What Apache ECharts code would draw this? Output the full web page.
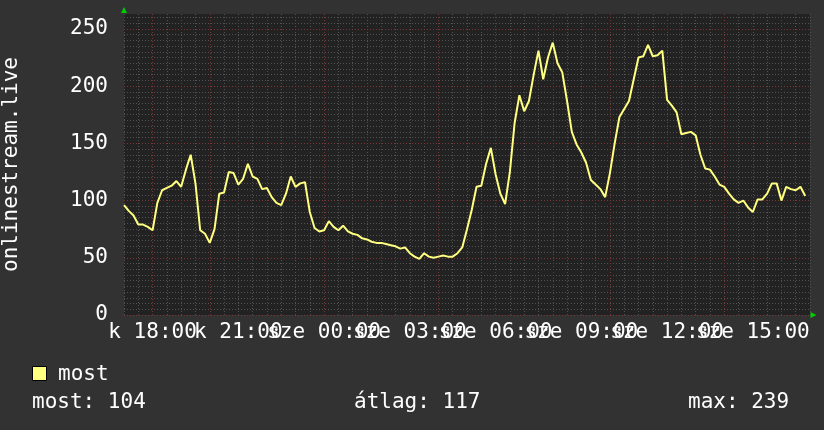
<!DOCTYPE html>
<html><head><meta charset="utf-8">
<script src="https://cdn.jsdelivr.net/npm/echarts@6/dist/echarts.min.js"></script>
<style>html,body{margin:0;padding:0;background:#323232}#c{width:824px;height:430px}</style>
</head><body><div id="c"></div>
<script>
const yTitle = 'onlinestream.live';
const seriesName = 'most';
// 10-minute samples starting Tuesday 17:00
const values = [
  96, 91, 87, 79, 79, 77, 74, 98, 109, 111,
  113, 117, 112, 127, 140, 115, 74, 71, 63, 75,
  106, 107, 125, 124, 114, 119, 132, 121, 119, 110,
  111, 103, 98, 96, 106, 121, 112, 115, 116, 90,
  76, 73, 74, 82, 77, 74, 78, 73, 71, 70,
  67, 66, 64, 63, 63, 62, 61, 60, 58, 59,
  54, 51, 49, 54, 51, 50, 51, 52, 51, 51,
  54, 59, 75, 92, 112, 113, 132, 146, 123, 106,
  97, 125, 168, 192, 178, 187, 210, 231, 206, 225,
  238, 220, 212, 187, 160, 149, 142, 133, 118, 114,
  110, 103, 124, 150, 173, 180, 187, 206, 225, 226,
  236, 226, 227, 231, 188, 183, 177, 158, 159, 160,
  157, 140, 128, 127, 121, 114, 112, 106, 101, 98,
  100, 94, 90, 101, 101, 106, 115, 115, 100, 112,
  110, 109, 112, 104, null
];
const tickLabels = ['k 18:00', 'k 21:00', 'sze 00:00', 'sze 03:00', 'sze 06:00', 'sze 09:00', 'sze 12:00', 'sze 15:00'];
const statLabels = ['most', 'átlag', 'max'];
const statValues = [104, 117, 239];
const yMax = 263;

const startMin = 17 * 60, stepMin = 10;
const categories = [];
const minuteOf = [];
for (let i = 0; i < values.length; i++) {
  const m = startMin + i * stepMin;
  const day = m < 1440 ? 'k' : 'sze';
  const mm = m % 1440;
  minuteOf.push(mm);
  categories.push(day + ' ' + String(Math.floor(mm / 60)).padStart(2, '0') + ':' + String(mm % 60).padStart(2, '0'));
}
const isMajor = i => minuteOf[i] % 120 === 0;
const isMinor = i => minuteOf[i] % 30 === 0 && !isMajor(i);
// labels split over two axes so ECharts does not drop the overlapping ones
const labelsA = tickLabels.filter((_, k) => k % 2 === 0);
const labelsB = tickLabels.filter((_, k) => k % 2 === 1);

const FONT = '"DejaVu Sans Mono", monospace';
const GREY = '#525252', RED = '#7a3636';
const labelStyle = {color: '#ffffff', fontFamily: FONT, fontSize: 21, margin: 7, hideOverlap: false};

const chart = echarts.init(document.getElementById('c'), null, {renderer: 'canvas'});
chart.setOption({
  backgroundColor: '#323232',
  animation: false,
  grid: {left: 124, right: 14, top: 14, bottom: 115, show: true, backgroundColor: '#222222', borderWidth: 0, containLabel: false, outerBoundsMode: 'none'},
  xAxis: [
    {
      type: 'category', data: categories, boundaryGap: false, position: 'bottom', z: 1,
      axisLine: {show: true, symbol: ['none', 'triangle'], symbolSize: [6, 6], symbolOffset: [0, 3.5], lineStyle: {color: '#00cc00', width: 0}},
      axisTick: {show: false},
      axisLabel: Object.assign({interval: (i, v) => labelsA.includes(v)}, labelStyle),
      splitLine: {show: true, interval: i => isMinor(i), lineStyle: {color: GREY, type: [1, 2], width: 1}}
    },
    {
      type: 'category', data: categories, boundaryGap: false, position: 'bottom', z: 2,
      axisLine: {show: false}, axisTick: {show: false},
      axisLabel: Object.assign({interval: (i, v) => labelsB.includes(v)}, labelStyle),
      splitLine: {show: true, interval: i => isMajor(i), lineStyle: {color: RED, type: [1, 2], width: 1}}
    }
  ],
  yAxis: [
    {
      type: 'value', min: 0, max: yMax, interval: 50, z: 2,
      name: yTitle, nameLocation: 'middle', nameRotate: 90, nameGap: 102,
      nameTextStyle: {color: '#ffffff', fontFamily: FONT, fontSize: 21},
      axisLine: {show: true, symbol: ['none', 'triangle'], symbolSize: [6, 6], symbolOffset: [0, 4], lineStyle: {color: '#00cc00', width: 0}},
      axisTick: {show: false},
      axisLabel: {color: '#ffffff', fontFamily: FONT, fontSize: 21, margin: 16, showMaxLabel: false, hideOverlap: false},
      splitLine: {show: true, showMaxLine: false, lineStyle: {color: RED, type: [1, 2], width: 1}}
    },
    {
      type: 'value', min: 0, max: yMax, interval: 5, z: 1,
      axisLine: {show: false}, axisTick: {show: false}, axisLabel: {show: false},
      splitLine: {show: true, showMaxLine: false, lineStyle: {color: GREY, type: [1, 2], width: 1}}
    }
  ],
  series: [{
    name: seriesName, type: 'line', data: values, xAxisIndex: 0, yAxisIndex: 0, z: 5,
    showSymbol: false, connectNulls: false,
    lineStyle: {color: '#ffff80', width: 2}, itemStyle: {color: '#ffff80'}
  }],
  graphic: [
    {type: 'rect', x: 32.5, y: 366.5, shape: {width: 14, height: 14}, style: {fill: '#ffff80', stroke: '#000000', lineWidth: 1}},
    {type: 'text', x: 58, y: 375, style: {text: seriesName, fill: '#ffffff', font: '21px ' + FONT, verticalAlign: 'middle'}},
    {type: 'text', x: 32, y: 403, style: {text: statLabels[0] + ': ' + statValues[0], fill: '#ffffff', font: '21px ' + FONT, verticalAlign: 'middle'}},
    {type: 'text', x: 354, y: 403, style: {text: statLabels[1] + ': ' + statValues[1], fill: '#ffffff', font: '21px ' + FONT, verticalAlign: 'middle'}},
    {type: 'text', x: 688, y: 403, style: {text: statLabels[2] + ': ' + statValues[2], fill: '#ffffff', font: '21px ' + FONT, verticalAlign: 'middle'}}
  ]
});
</script></body></html>
